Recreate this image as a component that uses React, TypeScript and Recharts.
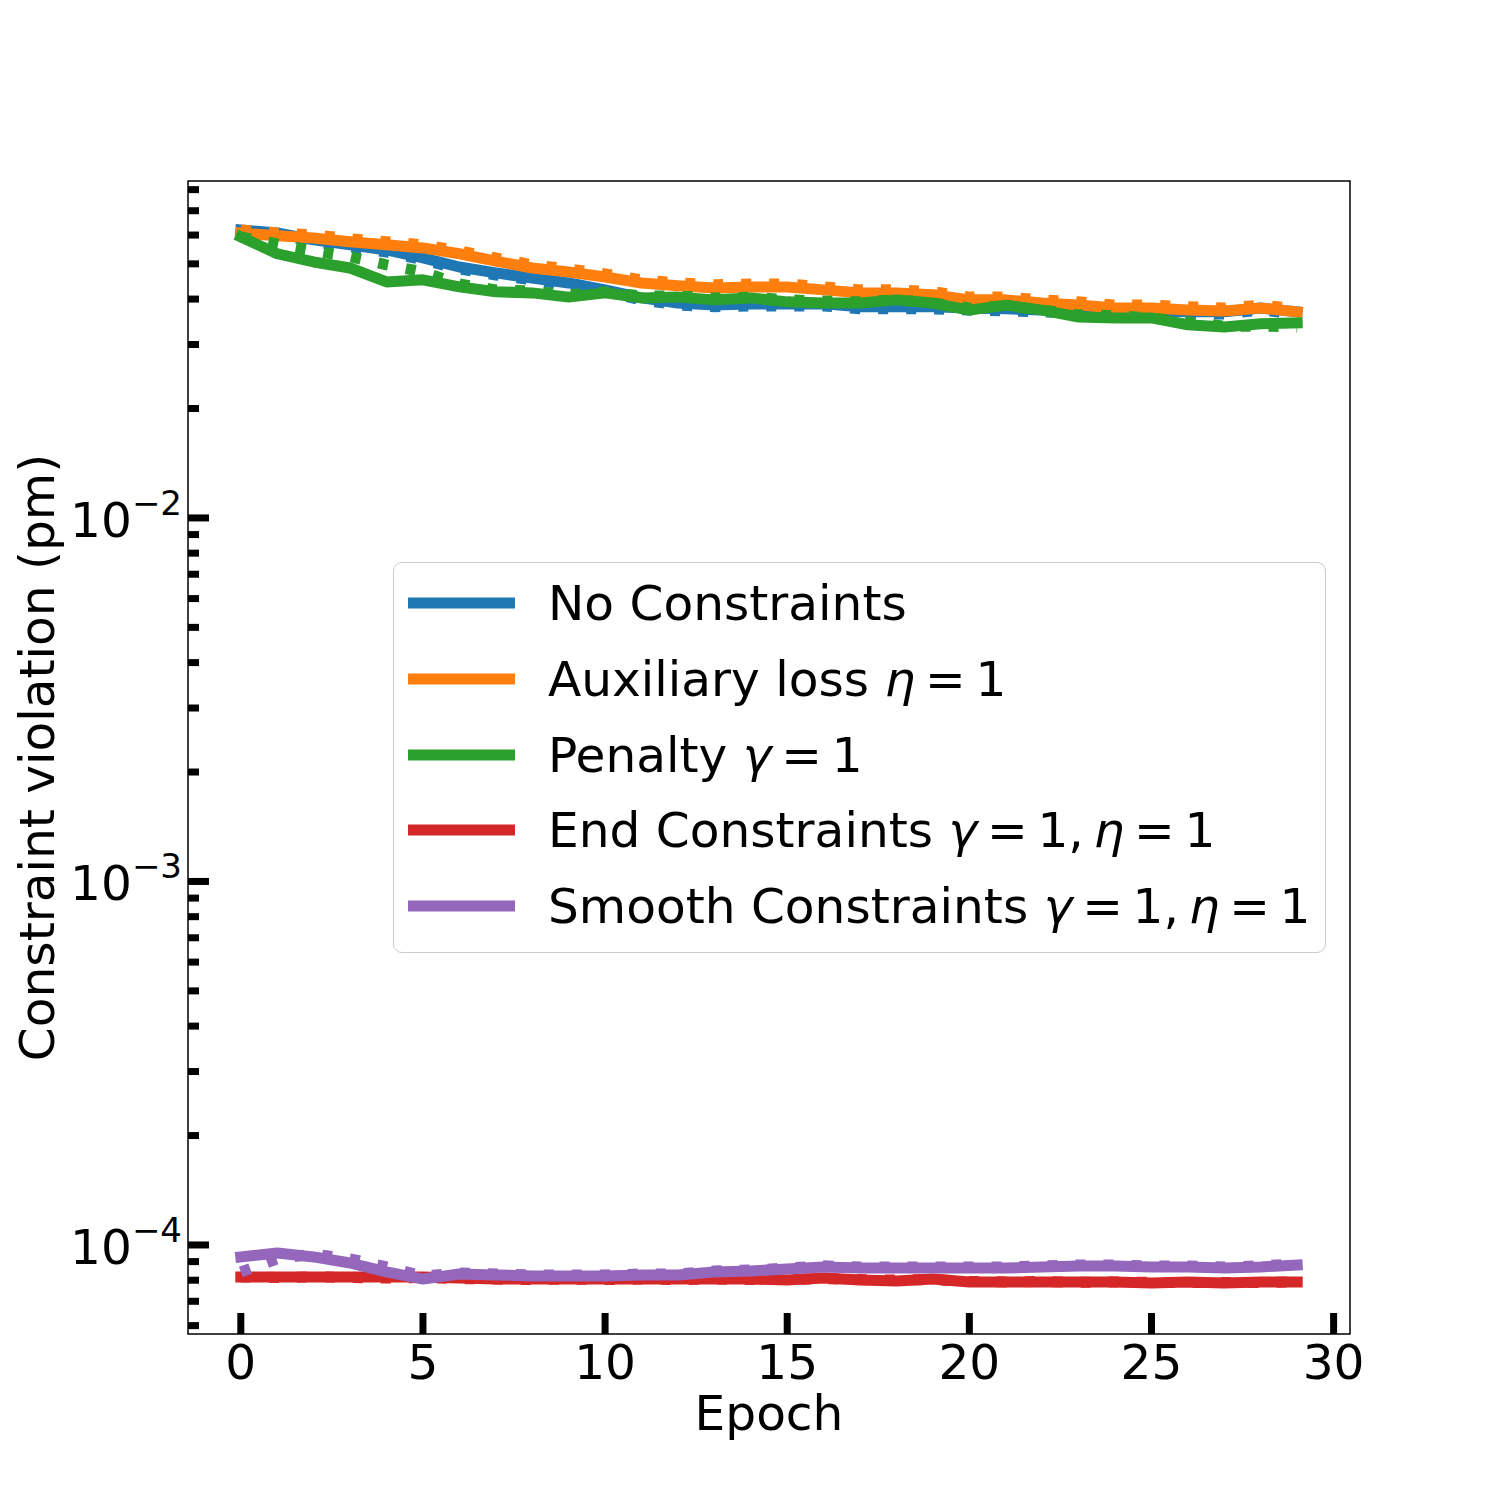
import React from "react";
import { LineChart, Line, XAxis, YAxis, Legend, ReferenceArea } from "recharts";

const FONT = "DejaVu Sans";
const FS = 48.6;

const epochs = [
  0, 1, 2, 3, 4, 5, 6, 7, 8, 9, 10, 11, 12, 13, 14, 15, 16, 17, 18, 19, 20, 21,
  22, 23, 24, 25, 26, 27, 28, 29,
];

// solid = training run, dotted = validation run
const noConstraints = [
  0.062, 0.0608, 0.0582, 0.0564, 0.0546, 0.0519, 0.049, 0.0472, 0.0457, 0.0443,
  0.0424, 0.0403, 0.039, 0.0385, 0.0388, 0.0388, 0.0388, 0.0381, 0.0381, 0.0381,
  0.0378, 0.0376, 0.0373, 0.0369, 0.0371, 0.0371, 0.0369, 0.0369, 0.0378, 0.0369,
];
const noConstraintsVal = [
  0.0612, 0.06, 0.0575, 0.0557, 0.0539, 0.0513, 0.0484, 0.0466, 0.0452, 0.0438,
  0.0419, 0.0398, 0.0385, 0.0381, 0.0383, 0.0383, 0.0383, 0.0376, 0.0376, 0.0376,
  0.0373, 0.0371, 0.0369, 0.0364, 0.0367, 0.0367, 0.0364, 0.0364, 0.0373, 0.0364,
];
const auxLoss = [
  0.0608, 0.0597, 0.0589, 0.0575, 0.0564, 0.0553, 0.0533, 0.0509, 0.0487, 0.0475,
  0.046, 0.0443, 0.0435, 0.0429, 0.0432, 0.0432, 0.0424, 0.0416, 0.0416, 0.0411,
  0.0398, 0.0398, 0.039, 0.0385, 0.0378, 0.0378, 0.0373, 0.0371, 0.0378, 0.0369,
];
const auxLossVal = [
  0.062, 0.0608, 0.0601, 0.0586, 0.0575, 0.0564, 0.0543, 0.0519, 0.0497, 0.0484,
  0.0469, 0.0452, 0.0443, 0.0438, 0.044, 0.044, 0.0432, 0.0424, 0.0424, 0.0419,
  0.0405, 0.0405, 0.0398, 0.0393, 0.0385, 0.0385, 0.0381, 0.0378, 0.0385, 0.0376,
];
const penalty = [
  0.0593, 0.0533, 0.0506, 0.0487, 0.0446, 0.0452, 0.0432, 0.0419, 0.0416, 0.0405,
  0.0416, 0.0403, 0.0405, 0.0398, 0.0403, 0.0393, 0.039, 0.039, 0.0398, 0.039,
  0.0373, 0.0385, 0.0373, 0.0357, 0.0355, 0.0355, 0.034, 0.0335, 0.0342, 0.0344,
];
const penaltyVal = [
  0.0593, 0.0567, 0.0543, 0.0523, 0.0497, 0.0475, 0.044, 0.0424, 0.0421, 0.0411,
  0.0419, 0.0408, 0.0408, 0.0403, 0.0405, 0.0398, 0.0395, 0.0393, 0.0398, 0.039,
  0.0378, 0.0383, 0.0373, 0.0362, 0.036, 0.0355, 0.0346, 0.0337, 0.0337, 0.0335,
];
const endConstraints = [
  8.17e-5, 8.17e-5, 8.17e-5, 8.17e-5, 8.17e-5, 8.17e-5, 8.11e-5, 8.06e-5, 8.06e-5,
  8.06e-5, 8.06e-5, 8.06e-5, 8.06e-5, 8.06e-5, 8.06e-5, 8.01e-5, 8.11e-5, 8.01e-5,
  7.96e-5, 8.06e-5, 7.91e-5, 7.91e-5, 7.91e-5, 7.91e-5, 7.91e-5, 7.86e-5, 7.91e-5,
  7.86e-5, 7.91e-5, 7.91e-5,
];
const endConstraintsVal = [
  8.17e-5, 8.14e-5, 8.17e-5, 8.14e-5, 8.11e-5, 8.14e-5, 8.08e-5, 8.06e-5, 8.03e-5,
  8.06e-5, 8.03e-5, 8.06e-5, 8.03e-5, 8.06e-5, 8.03e-5, 8.03e-5, 8.08e-5, 8.03e-5,
  8.01e-5, 8.03e-5, 7.94e-5, 7.91e-5, 7.94e-5, 7.89e-5, 7.91e-5, 7.89e-5, 7.89e-5,
  7.89e-5, 7.89e-5, 7.91e-5,
];
const smoothConstraints = [
  9.27e-5, 9.51e-5, 9.27e-5, 8.92e-5, 8.43e-5, 8.06e-5, 8.32e-5, 8.27e-5, 8.22e-5,
  8.22e-5, 8.22e-5, 8.27e-5, 8.27e-5, 8.43e-5, 8.48e-5, 8.59e-5, 8.7e-5, 8.64e-5,
  8.64e-5, 8.64e-5, 8.64e-5, 8.64e-5, 8.7e-5, 8.76e-5, 8.76e-5, 8.7e-5, 8.7e-5,
  8.64e-5, 8.7e-5, 8.81e-5,
];
const smoothConstraintsVal = [
  8.43e-5, 9.16e-5, 9.44e-5, 9.16e-5, 8.7e-5, 8.22e-5, 8.37e-5, 8.32e-5, 8.27e-5,
  8.27e-5, 8.27e-5, 8.32e-5, 8.32e-5, 8.48e-5, 8.53e-5, 8.64e-5, 8.76e-5, 8.7e-5,
  8.7e-5, 8.7e-5, 8.7e-5, 8.7e-5, 8.76e-5, 8.81e-5, 8.81e-5, 8.76e-5, 8.76e-5,
  8.7e-5, 8.76e-5, 8.86e-5,
];

const xTicks = [0, 5, 10, 15, 20, 25, 30];
const yMajorTicks = [1e-4, 1e-3, 1e-2];
const yMajorLabels = ["\u22124", "\u22123", "\u22122"];
const yMinorTicks = [
  6e-5, 7e-5, 8e-5, 9e-5, 2e-4, 3e-4, 4e-4, 5e-4, 6e-4, 7e-4, 8e-4, 9e-4, 2e-3,
  3e-3, 4e-3, 5e-3, 6e-3, 7e-3, 8e-3, 9e-3, 2e-2, 3e-2, 4e-2, 5e-2, 6e-2, 7e-2,
  8e-2,
];

const X_DOMAIN = [-1.45, 30.45];
const Y_DOMAIN = [5.69e-5, 0.0845];

const EQ = "\u2009=\u20091";

const series = [
  { key: "noC", valKey: "noCVal", color: "#1f77b4", name: "No Constraints", math: null },
  { key: "aux", valKey: "auxVal", color: "#ff7f0e", name: "Auxiliary loss ", math: [["\u03b7", EQ]] },
  { key: "pen", valKey: "penVal", color: "#2ca02c", name: "Penalty ", math: [["\u03b3", EQ]] },
  {
    key: "end",
    valKey: "endVal",
    color: "#d62728",
    name: "End Constraints ",
    math: [["\u03b3", EQ + ",\u2009"], ["\u03b7", EQ]],
  },
  {
    key: "smooth",
    valKey: "smoothVal",
    color: "#9467bd",
    name: "Smooth Constraints ",
    math: [["\u03b3", EQ + ",\u2009"], ["\u03b7", EQ]],
  },
];

const data = epochs.map((epoch, i) => ({
  epoch,
  noC: noConstraints[i],
  noCVal: noConstraintsVal[i],
  aux: auxLoss[i],
  auxVal: auxLossVal[i],
  pen: penalty[i],
  penVal: penaltyVal[i],
  end: endConstraints[i],
  endVal: endConstraintsVal[i],
  smooth: smoothConstraints[i],
  smoothVal: smoothConstraintsVal[i],
}));

function YTick(props: any) {
  const { x, y, payload } = props;
  const idx = yMajorTicks.indexOf(payload.value);
  const major = idx >= 0;
  return (
    <g>
      <line x1={x} x2={x + (major ? 21 : 11)} y1={y} y2={y} stroke="#000" strokeWidth={7} />
      {major && (
        <text x={x - 6} y={y + 19} textAnchor="end" fontSize={FS} fontFamily={FONT} fill="#000">
          10
          <tspan fontSize={34} dy={-22}>
            {yMajorLabels[idx]}
          </tspan>
        </text>
      )}
    </g>
  );
}

function XTick(props: any) {
  const { x, y, payload } = props;
  return (
    <g>
      <line x1={x} x2={x} y1={y} y2={y - 21} stroke="#000" strokeWidth={7} />
      <text x={x} y={y + 45} textAnchor="middle" fontSize={FS} fontFamily={FONT} fill="#000">
        {payload.value}
      </text>
    </g>
  );
}

function LegendBox() {
  return (
    <div
      style={{
        position: "relative",
        width: 933,
        height: 391,
        boxSizing: "border-box",
        border: "1.5px solid #cccccc",
        borderRadius: 9,
        background: "rgba(255,255,255,0.8)",
        fontFamily: FONT,
        fontSize: FS,
        color: "#000",
      }}
    >
      {series.map((s, i) => (
        <div
          key={s.key}
          style={{
            position: "absolute",
            left: 0,
            top: 40 + i * 75.8 - 31,
            height: 62,
            display: "flex",
            alignItems: "center",
            whiteSpace: "nowrap",
          }}
        >
          <svg width={120} height={12} style={{ marginLeft: 14, display: "block" }}>
            <line x1={0} x2={107} y1={6} y2={6} stroke={s.color} strokeWidth={11} />
          </svg>
          <span style={{ marginLeft: 20 }}>
            {s.name}
            {s.math &&
              s.math.map(([sym, rest], j) => (
                <React.Fragment key={j}>
                  <span style={{ fontStyle: "italic" }}>{sym}</span>
                  {rest}
                </React.Fragment>
              ))}
          </span>
        </div>
      ))}
    </div>
  );
}

export default function App() {
  return (
    <div style={{ position: "absolute", left: 0, top: 0, width: 1500, height: 1500, background: "#fff" }}>
      <LineChart
        width={1500}
        height={1500}
        data={data}
        margin={{ top: 181, right: 150, bottom: 165, left: 187 }}
      >
        <XAxis
          dataKey="epoch"
          type="number"
          domain={X_DOMAIN}
          allowDataOverflow
          ticks={xTicks}
          interval={0}
          tick={<XTick />}
          tickSize={0}
          tickMargin={0}
          axisLine={false}
          height={1}
          label={{
            content: (p: any) => {
              const vb = p.viewBox || {};
              return (
                <text
                  x={vb.x + vb.width / 2}
                  y={vb.y + 96}
                  textAnchor="middle"
                  fontSize={FS}
                  fontFamily={FONT}
                  fill="#000"
                >
                  Epoch
                </text>
              );
            },
          }}
        />
        <YAxis
          type="number"
          scale="log"
          domain={Y_DOMAIN}
          allowDataOverflow
          ticks={[...yMinorTicks, ...yMajorTicks]}
          interval={0}
          tick={<YTick />}
          tickSize={0}
          tickMargin={0}
          axisLine={false}
          width={1}
          label={{
            content: (p: any) => {
              const vb = p.viewBox || {};
              const cy = vb.y + vb.height / 2;
              return (
                <text
                  x={37}
                  y={cy}
                  transform={`rotate(-90 37 ${cy})`}
                  textAnchor="middle"
                  dominantBaseline="central"
                  fontSize={FS}
                  fontFamily={FONT}
                  fill="#000"
                >
                  Constraint violation (pm)
                </text>
              );
            },
          }}
        />
        <ReferenceArea
          x1={X_DOMAIN[0]}
          x2={X_DOMAIN[1]}
          y1={Y_DOMAIN[0]}
          y2={Y_DOMAIN[1]}
          fill="none"
          stroke="#000"
          strokeWidth={1.5}
          ifOverflow="visible"
        />
        {series.map((s) => [
          <Line
            key={s.key}
            dataKey={s.key}
            type="linear"
            stroke={s.color}
            strokeWidth={11}
            strokeLinecap="square"
            strokeLinejoin="round"
            dot={false}
            activeDot={false}
            isAnimationActive={false}
          />,
          <Line
            key={s.valKey}
            dataKey={s.valKey}
            type="linear"
            stroke={s.color}
            strokeWidth={11}
            strokeDasharray="10 18"
            strokeLinecap="butt"
            dot={false}
            activeDot={false}
            legendType="none"
            isAnimationActive={false}
          />,
        ])}
        <Legend
          layout="vertical"
          align="center"
          verticalAlign="middle"
          content={() => <LegendBox />}
          wrapperStyle={{ position: "absolute", left: 393, top: 562, width: 933, height: 391 }}
        />
      </LineChart>
    </div>
  );
}
